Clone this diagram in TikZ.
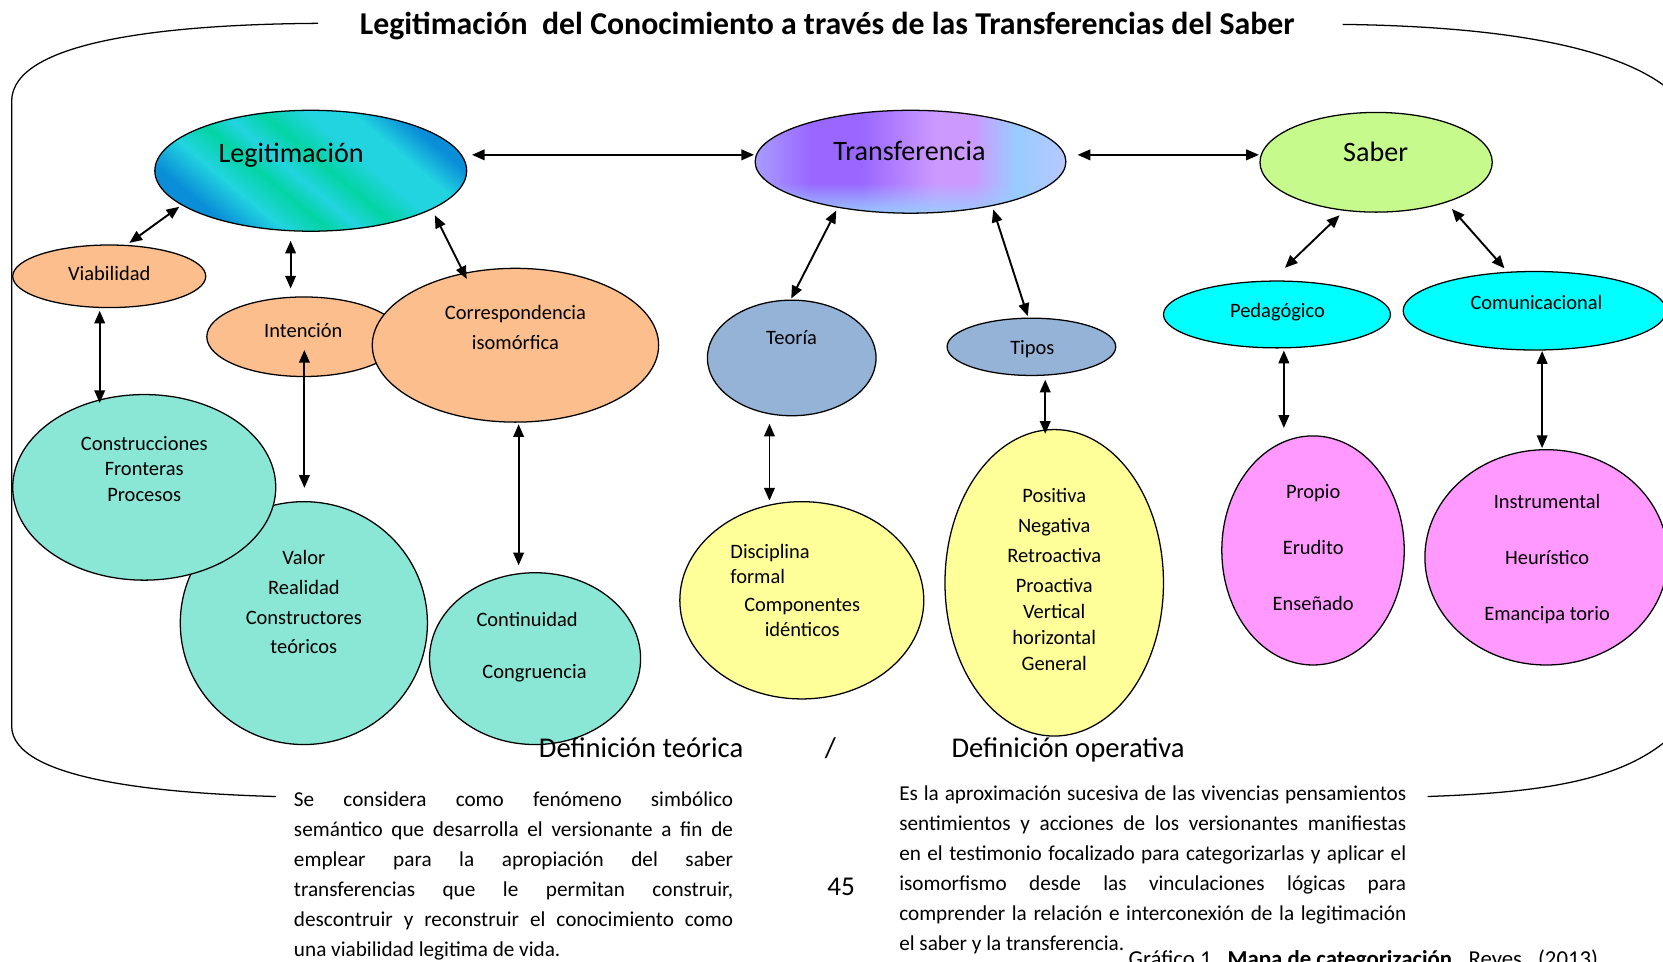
\documentclass[tikz,border=0pt]{standalone}
\usepackage{fontspec}
\setmainfont{Carlito}
\usetikzlibrary{shapes.geometric,arrows.meta,calc,fadings}

\definecolor{peach}{HTML}{FBBE8C}
\definecolor{teal1}{HTML}{8AE6D5}
\definecolor{bgrey}{HTML}{95B3D7}
\definecolor{yel}{HTML}{FFFF99}
\definecolor{pink1}{HTML}{FF99FF}
\definecolor{cyan1}{HTML}{00FFFF}
\definecolor{green1}{HTML}{C6FA8C}
\definecolor{lgB}{HTML}{0A8ED8}
\definecolor{lgC}{HTML}{22D4E0}
\definecolor{lgG}{HTML}{03D4A4}
\definecolor{tB}{HTML}{99CCFF}
\definecolor{tM}{HTML}{A99CFF}
\definecolor{tP}{HTML}{9966FF}
\definecolor{tL}{HTML}{CC99FF}
\definecolor{tV}{HTML}{B8C8FF}

\pgfdeclarehorizontalshading{legsh}{100bp}{color(0bp)=(lgB); color(27bp)=(lgB); color(35bp)=(lgC); color(42bp)=(lgG); color(47bp)=(lgC); color(53bp)=(lgG); color(60bp)=(lgC); color(67bp)=(lgC); color(74bp)=(lgB); color(100bp)=(lgB)}
\pgfdeclarehorizontalshading{trsh}{100bp}{color(0bp)=(tM); color(25bp)=(tM); color(34bp)=(tP); color(42bp)=(tP); color(54bp)=(tL); color(60bp)=(tL); color(67bp)=(tB); color(75bp)=(tV); color(100bp)=(tV)}
\tikzfading[name=botfade, top color=transparent!100, bottom color=transparent!0]

\newcommand\stk[2]{{\fontsize{19.3}{#1}\selectfont\begin{tabular}[t]{@{}c@{}}#2\end{tabular}}}
\newcommand\parL[1]{\makebox[414pt][s]{#1}}
\newcommand\parR[1]{\makebox[478pt][s]{#1}}

\begin{document}
\begin{tikzpicture}[x=1pt,y=-1pt,
  bub/.style={draw=black, line width=1.2pt, ellipse, inner sep=0pt, outer sep=0pt},
  big/.style={font=\fontsize{26.5}{32}\selectfont, anchor=base, inner sep=0pt},
  sm/.style={font=\fontsize{19.3}{24}\selectfont, anchor=base, inner sep=0pt},
  txt/.style={anchor=base, inner sep=0pt},
  dbl/.style={line width=1.8pt, {Triangle[length=12pt,width=10pt]}-{Triangle[length=12pt,width=10pt]}},
  frameline/.style={line width=1.2pt},
  para/.style={font=\fontsize{20}{28.3}\selectfont, anchor=base west, inner sep=0pt}]
\useasboundingbox (0,0) rectangle (1568,907);

% frame
\draw[frameline] (300,22) .. controls (150,23) and (12,40) .. (11,95) -- (11,685) .. controls (12,735) and (150,748) .. (260,751);
\draw[frameline] (1266,23) .. controls (1420,25) and (1540,45) .. (1585,95);
\draw[frameline] (1346,751) .. controls (1460,747) and (1540,735) .. (1585,685);

% title
\node[txt, font=\bfseries\fontsize{30}{36}\selectfont] (title) at (780,33) {Legitimación\ \ del Conocimiento a través de las Transferencias del Saber};

% ellipses
\node[bub, shade, shading=legsh, shading angle=50, minimum width=294pt, minimum height=114pt] (legit) at (293,161) {};
\node[ellipse, inner sep=0pt, shade, shading=trsh, minimum width=293pt, minimum height=97pt] (trans) at (858.5,152.5) {};
\begin{scope}
\clip (trans.center) ellipse [x radius=146.5, y radius=48.5];
\fill[tB, path fading=botfade] (700,172) rectangle (1020,202);
\end{scope}
\draw[line width=1.2pt] (trans.center) ellipse [x radius=146.5, y radius=48.5];
\node[bub, fill=green1, minimum width=219pt, minimum height=94pt] (saber) at (1297.5,153) {};

\node[bub, fill=peach, minimum width=182pt, minimum height=59pt] (viab) at (103,260.5) {};
\node[bub, fill=peach, minimum width=183pt, minimum height=75pt] (inten) at (286.5,317.5) {};
\node[bub, fill=peach, minimum width=270pt, minimum height=145pt] (corr) at (486,325.5) {};
\node[bub, fill=teal1, minimum width=233pt, minimum height=229pt] (valor) at (286.5,587.5) {};
\node[bub, fill=teal1, minimum width=248pt, minimum height=175pt] (constr) at (136,459.5) {};
\node[bub, fill=teal1, minimum width=199pt, minimum height=162pt] (conti) at (504.5,621) {};

\node[bub, fill=bgrey, minimum width=159pt, minimum height=109pt] (teoria) at (746.5,337.5) {};
\node[bub, fill=bgrey, minimum width=159pt, minimum height=54pt] (tipos) at (972.5,327) {};
\node[bub, fill=yel, minimum width=230pt, minimum height=186pt] (disc) at (756,566) {};
\node[bub, fill=yel, minimum width=206pt, minimum height=289pt] (posit) at (994,549.5) {};

\node[bub, fill=cyan1, minimum width=214pt, minimum height=63pt] (pedag) at (1204,296.5) {};
\node[bub, fill=cyan1, minimum width=248pt, minimum height=74pt] (comun) at (1447,293) {};
\node[bub, fill=pink1, minimum width=172pt, minimum height=216pt] (propio) at (1238,519) {};
\node[bub, fill=pink1, minimum width=229pt, minimum height=203pt] (instr) at (1458,525.5) {};

% arrows
\draw[dbl] ($(legit)+(152,-15)$) -- ($(trans)+(-147.5,-6.5)$);
\draw[dbl] ($(trans)+(157.5,-6.5)$) -- ($(saber)+(-110.5,-7)$);
\draw[dbl] ($(legit)+(-124,34)$) -- ($(viab)+(19,-31.5)$);
\draw[dbl] ($(legit)+(-19,66)$) -- ($(inten)+(-12.5,-45.5)$);
\draw[dbl] ($(legit)+(117,42)$) -- ($(corr)+(-46,-62.5)$);
\draw[dbl] ($(viab)+(-9,32.5)$) -- ($(constr)+(-42,-79.5)$);
\draw[dbl] ($(inten)+(0.5,12.5)$) -- ($(valor)+(0.5,-127.5)$);
\draw[dbl] ($(corr)+(3,74.5)$) -- ($(conti)+(-15.5,-88)$);
\draw[dbl] ($(trans)+(-70,46)$) -- ($(teoria)+(-0.5,-56)$);
\draw[dbl] ($(trans)+(78,45)$) -- ($(tipos)+(-3.5,-29)$);
\draw[dbl] ($(teoria)+(-21,62)$) -- ($(disc)+(-30.5,-94)$);
\draw[dbl] ($(tipos)+(13,31)$) -- ($(posit)+(-8.5,-140.5)$);
\draw[dbl] ($(saber)+(-34.5,50)$) -- ($(pedag)+(7.5,-44)$);
\draw[dbl] ($(saber)+(71.5,44)$) -- ($(comun)+(-28.5,-40)$);
\draw[dbl] ($(pedag)+(6.5,34)$) -- ($(propio)+(-27.5,-115.5)$);
\draw[dbl] ($(comun)+(7,38)$) -- ($(instr)+(-4,-103)$);

% labels
\node[big] (tlegit) at (274.5,152.8) {Legitimación};
\node[big] (ttrans) at (857.5,151) {Transferencia};
\node[big] (tsaber) at (1297,152) {Saber};

\node[sm] (tviab) at (103,264.6) {Viabilidad};
\node[sm] (tinten) at (286,318) {Intención};
\node[txt] (tcorr) at (486,301.7) {\stk{27.7}{Correspondencia\\isomórfica}};
\node[txt] (tconstr) at (136,424.3) {\stk{24.4}{Construcciones\\Fronteras\\Procesos}};
\node[txt] (tvalor) at (286.5,532) {\stk{28.2}{Valor\\Realidad\\Constructores\\teóricos}};
\node[sm] (tconti) at (497,591) {Continuidad};
\node[sm] (tcongr) at (504,639.6) {Congruencia};

\node[sm] (tteoria) at (746.4,324.7) {Teoría};
\node[sm] (ttipos) at (973.4,333.8) {Tipos};
\node[txt, anchor=base west] (tdisc) at (688.5,526.4) {{\fontsize{19.3}{24.2}\selectfont\begin{tabular}[t]{@{}l@{}}Disciplina\\formal\end{tabular}}};
\node[txt] (tcomp) at (756.4,576.1) {\stk{23.6}{Componentes\\idénticos}};
\node[txt] (tposit) at (994,474) {\stk{24.3}{Positiva\\[4pt]Negativa\\[4pt]Retroactiva\\[4pt]Proactiva\\Vertical\\horizontal\\General}};

\node[sm] (tpedag) at (1204.5,299.2) {Pedagógico};
\node[sm] (tcomun) at (1448.7,291.4) {Comunicacional};
\node[txt] (tpropio) at (1238.2,469.9) {\stk{53}{Propio\\Erudito\\Enseñado}};
\node[txt] (tinstr) at (1458.7,479.3) {\stk{53}{Instrumental\\Heurístico\\Emancipa torio}};

% bottom texts
\node[txt, font=\fontsize{27}{32}\selectfont] (dteo) at (604.5,714) {Definición teórica};
\node[txt, font=\fontsize{27}{32}\selectfont] (slash) at (783,714) {/};
\node[txt, font=\fontsize{27}{32}\selectfont, anchor=base west] (dope) at (897,714) {Definición operativa};
\node[txt, font=\fontsize{25.6}{30}\selectfont] (pnum) at (793,844) {45};

\node[para] (pleft) at (277,760.6) {\begin{tabular}[t]{@{}l@{}}
\parL{Se considera como fenómeno simbólico}\\
\parL{semántico que desarrolla el versionante a fin de}\\
\parL{emplear para la apropiación del saber}\\
\parL{transferencias que le permitan construir,}\\
\parL{descontruir y reconstruir el conocimiento como}\\
una viabilidad legitima de vida.
\end{tabular}};

\node[para] (pright) at (847.7,754.3) {\begin{tabular}[t]{@{}l@{}}
\parR{Es la aproximación sucesiva de las vivencias pensamientos}\\
\parR{sentimientos y acciones de los versionantes manifiestas}\\
\parR{en el testimonio focalizado para categorizarlas y aplicar el}\\
\parR{isomorfismo desde las vinculaciones lógicas para}\\
\parR{comprender la relación e interconexión de la legitimación}\\
el saber y la transferencia.
\end{tabular}};

\node[txt, anchor=base west, font=\fontsize{21.5}{26}\selectfont] (caption) at (1064,911) {Gráfico 1.\ \ \textbf{Mapa de categorización.}\ \ Reyes,\ \ (2013)};
\end{tikzpicture}
\end{document}
